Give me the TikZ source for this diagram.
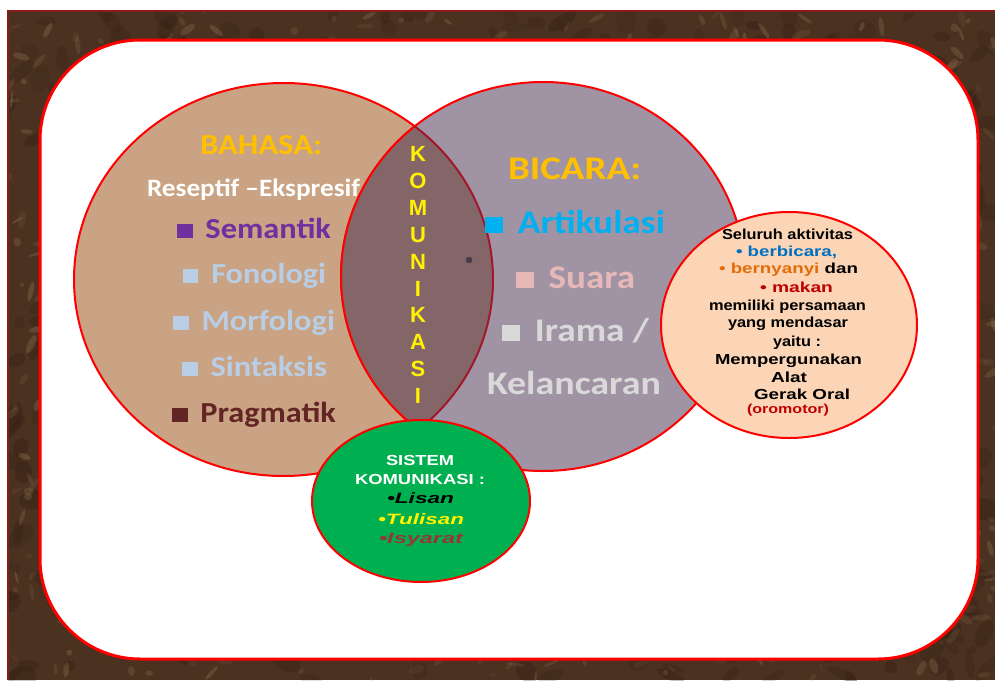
\documentclass[tikz,border=0pt]{standalone}
\usepackage{fontspec}
\usepackage{graphicx}
\newfontfamily\carl{Carlito}
\newfontfamily\arl{Liberation Sans}
\definecolor{texdark}{HTML}{4A3120}
\definecolor{texlite}{HTML}{9C7C5A}
\definecolor{texdeep}{HTML}{2A190E}
\definecolor{framered}{HTML}{8B1A1A}
\definecolor{bahasafill}{HTML}{C9A383}
\definecolor{bicarafill}{HTML}{A094A4}
\definecolor{lensfill}{HTML}{846668}
\definecolor{lensred}{HTML}{A3172A}
\definecolor{peach}{HTML}{FBD5B5}
\definecolor{grn}{HTML}{00B050}
\definecolor{gold}{HTML}{FFC000}
\definecolor{purp}{HTML}{7030A0}
\definecolor{lblue}{HTML}{B9CDE5}
\definecolor{dbrown}{HTML}{632523}
\definecolor{sky}{HTML}{00B0F0}
\definecolor{pinkish}{HTML}{E6B9B8}
\definecolor{lgray}{HTML}{D9D9D9}
\definecolor{oblue}{HTML}{0070C0}
\definecolor{oorange}{HTML}{E36C09}
\definecolor{ored}{HTML}{C00000}
\definecolor{isy}{HTML}{953735}
\definecolor{dotc}{HTML}{4B3C4B}
\newcommand\fitw[2]{\resizebox{#1pt}{\height}{#2}}
\newcommand\sqbox{\rule{0.48em}{0.48em}\hspace{0.4em}}
\tikzset{
  txt/.style={inner sep=0pt, anchor=base},
  bigL/.style={txt, font=\carl\bfseries\fontsize{29}{29}\selectfont},
  bigR/.style={txt, font=\carl\bfseries\fontsize{33}{33}\selectfont},
  small/.style={txt, font=\arl\bfseries\fontsize{14.5}{14.5}\selectfont},
  smallit/.style={txt, font=\arl\bfseries\itshape\fontsize{15}{15}\selectfont},
  vert/.style={txt, anchor=base, font=\arl\bfseries\fontsize{22}{22}\selectfont, text=yellow},
  circ/.style={line width=2pt, draw=red},
}
\begin{document}
\begin{tikzpicture}[x=1pt,y=-1pt]
\useasboundingbox (0,0) rectangle (995,680);
% textured frame
\begin{scope}
\clip (8,11) rectangle (995,680);
\fill[texdark] (8,11) rectangle (995,680);
\pgfmathsetseed{11}
\foreach \i in {1,...,700}{
  \pgfmathsetmacro\px{8+987*rnd}
  \pgfmathsetmacro\py{11+669*rnd}
  \pgfmathsetmacro\rx{5+12*rnd}
  \pgfmathsetmacro\ry{3+8*rnd}
  \pgfmathsetmacro\op{0.10+0.20*rnd}
  \pgfmathsetmacro\ang{180*rnd}
  \fill[texdeep,opacity=\op,rotate around={\ang:(\px,\py)}] (\px,\py) ellipse [x radius=\rx pt, y radius=\ry pt];
}
\foreach \i in {1,...,1100}{
  \pgfmathsetmacro\px{8+987*rnd}
  \pgfmathsetmacro\py{11+669*rnd}
  \pgfmathsetmacro\rx{2+8*rnd}
  \pgfmathsetmacro\ry{1+3*rnd}
  \pgfmathsetmacro\op{0.10+0.22*rnd}
  \pgfmathsetmacro\ang{180*rnd}
  \fill[texlite,opacity=\op,rotate around={\ang:(\px,\py)}] (\px,\py) ellipse [x radius=\rx pt, y radius=\ry pt];
}
\end{scope}
\draw[framered, line width=1.5pt] (8,680) -- (8,11) -- (995,11);
% white panel
\draw[red, line width=3pt, fill=white, rounded corners=100pt] (40,40) rectangle (978,659);
% BAHASA
\filldraw[circ, fill=bahasafill] (283.5,279.5) ellipse [x radius=209.5pt, y radius=196.5pt];
% BICARA
\filldraw[circ, fill=bicarafill] (543,276.5) ellipse [x radius=202pt, y radius=194.5pt];
% lens
\begin{scope}
\clip (283.5,279.5) ellipse [x radius=209.5pt, y radius=196.5pt];
\fill[lensfill] (543,276.5) ellipse [x radius=202pt, y radius=194.5pt];
\draw[circ] (543,276.5) ellipse [x radius=202pt, y radius=194.5pt];
\end{scope}
\begin{scope}
\clip (543,276.5) ellipse [x radius=202pt, y radius=194.5pt];
\draw[line width=2pt, draw=lensred] (283.5,279.5) ellipse [x radius=209.5pt, y radius=196.5pt];
\end{scope}
\fill[dotc, rounded corners=1.5pt] (466,257) rectangle (472,263);
% peach circle
\filldraw[circ, fill=peach] (789,325) ellipse [x radius=128pt, y radius=113pt];
% green ellipse
\filldraw[circ, fill=grn] (421,501) ellipse [x radius=109pt, y radius=81pt];

% BAHASA texts
\node[bigL, text=gold] (bahasa) at (261,154) {\fitw{122}{BAHASA:}};
\node[txt, font=\carl\bfseries\fontsize{25}{25}\selectfont, text=white] (resep) at (253.5,196) {\fitw{213}{Reseptif –Ekspresif}};
\node[bigL, text=purp] (seman) at (254,238) {\fitw{154}{\sqbox Semantik}};
\node[bigL, text=lblue] (fono) at (254.5,283) {\fitw{143}{\sqbox Fonologi}};
\node[bigL, text=lblue] (morf) at (254,330) {\fitw{162}{\sqbox Morfologi}};
\node[bigL, text=lblue] (sint) at (254.5,376) {\fitw{145}{\sqbox Sintaksis}};
\node[bigL, text=dbrown] (prag) at (254,422) {\fitw{164}{\sqbox Pragmatik}};

% BICARA texts
\node[bigR, text=gold] (bicara) at (574.5,179) {\fitw{133}{BICARA:}};
\node[bigR, text=sky] (artik) at (575,233) {\fitw{180}{\sqbox Artikulasi}};
\node[bigR, text=pinkish] (suara) at (575.5,288) {\fitw{119}{\sqbox Suara}};
\node[bigR, text=lgray] (irama) at (575.5,341) {\fitw{147}{\sqbox Irama /}};
\node[bigR, text=lgray] (kelan) at (574,394) {\fitw{174}{Kelancaran}};

% KOMUNIKASI vertical
\foreach \ch [count=\k from 0] in {K,O,M,U,N,I,K,A,S,I}{
  \node[vert] (kom\k) at (418,161.5+26.9*\k) {\ch};
}

% peach circle texts
\node[small] (p1) at (787.5,239) {\fitw{131}{Seluruh aktivitas}};
\node[small, text=oblue] (p2) at (786.5,256) {\fitw{101}{• berbicara,}};
\node[small] (p3) at (788.5,273) {\fitw{139}{\textcolor{oorange}{• bernyanyi} dan}};
\node[small, text=ored] (p4) at (796.5,292) {\fitw{73}{• makan}};
\node[small] (p5) at (787.5,310) {\fitw{157}{memiliki persamaan}};
\node[small] (p6) at (788,327) {\fitw{120}{yang mendasar}};
\node[small] (p7) at (797,346) {\fitw{48}{yaitu :}};
\node[small] (p8) at (788.5,364) {\fitw{147}{Mempergunakan}};
\node[small] (p9) at (789,382) {\fitw{36}{Alat}};
\node[small] (p10) at (802,399) {\fitw{96}{Gerak Oral}};
\node[txt, font=\arl\bfseries\fontsize{13}{13}\selectfont, text=ored] (p11) at (788,413) {\fitw{82}{(oromotor)}};

% green ellipse texts
\node[small, text=white] (g1) at (420,465) {\fitw{68}{SISTEM}};
\node[small, text=white] (g2) at (420,484) {\fitw{130}{KOMUNIKASI :}};
\node[smallit, text=black] (g3) at (420.5,503) {\fitw{67}{•Lisan}};
\node[smallit, text=yellow] (g4) at (421,524) {\fitw{86}{•Tulisan}};
\node[smallit, text=isy] (g5) at (421,543) {\fitw{84}{•Isyarat}};
\end{tikzpicture}
\end{document}
